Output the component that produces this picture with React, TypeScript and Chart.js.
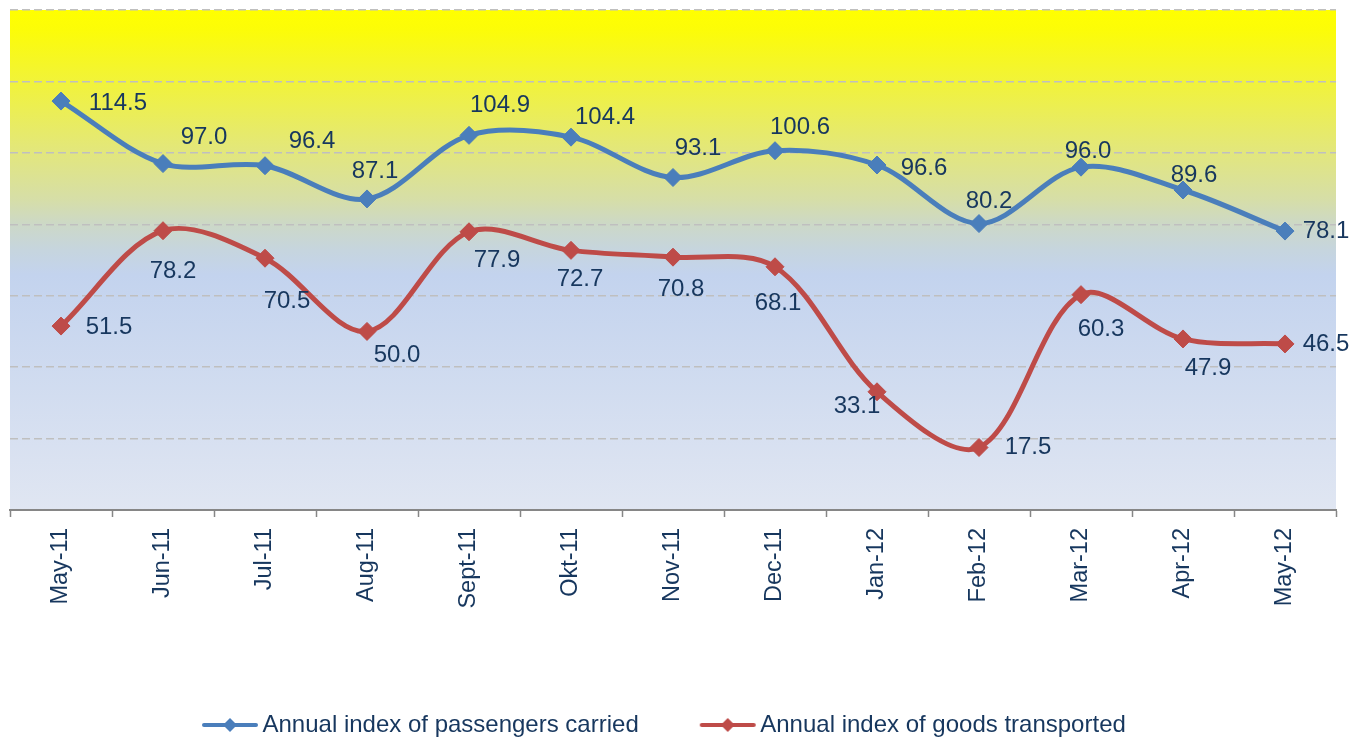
import React, { useEffect, useRef } from 'react';
import { Chart, registerables } from 'chart.js';

Chart.register(...registerables);

const categories = ['May-11', 'Jun-11', 'Jul-11', 'Aug-11', 'Sept-11', 'Okt-11', 'Nov-11', 'Dec-11', 'Jan-12', 'Feb-12', 'Mar-12', 'Apr-12', 'May-12'];
const passengers = [114.5, 97.0, 96.4, 87.1, 104.9, 104.4, 93.1, 100.6, 96.6, 80.2, 96.0, 89.6, 78.1];
const goods = [51.5, 78.2, 70.5, 50.0, 77.9, 72.7, 70.8, 68.1, 33.1, 17.5, 60.3, 47.9, 46.5];
const seriesNames = ['Annual index of passengers carried', 'Annual index of goods transported'];
const yMin = 0;
const yMax = 140;
const yStep = 20;

// label placement offsets (text centre relative to the point), styling only
const passengerLabelOffsets = [[57, 2], [41, -26], [47, -24], [8, -28], [31, -30], [34, -20], [25, -29], [25, -23], [47, 3], [10, -22], [7, -16], [11, -15], [41, 0]];
const goodsLabelOffsets = [[48, 1], [10, 41], [22, 43], [30, 24], [28, 29], [9, 29], [8, 32], [3, 37], [-20, 15], [49, 0], [20, 35], [25, 29], [41, 0]];

const BLUE = '#4A7EBB';
const RED = '#BE4B48';
const TEXT = '#17375E';
const FONT = '"Liberation Sans", Arial, sans-serif';

export default function App() {
  const ref = useRef<HTMLCanvasElement>(null);

  useEffect(() => {
    document.body.style.margin = '0';
    const canvas = ref.current!;

    const makeLegendImg = (color: string) => {
      const c = document.createElement('canvas');
      c.width = 58;
      c.height = 16;
      const g = c.getContext('2d')!;
      g.strokeStyle = color;
      g.lineWidth = 4;
      g.lineCap = 'round';
      g.beginPath();
      g.moveTo(3, 8);
      g.lineTo(55, 8);
      g.stroke();
      g.fillStyle = color;
      g.beginPath();
      g.moveTo(29, 1);
      g.lineTo(36, 8);
      g.lineTo(29, 15);
      g.lineTo(22, 8);
      g.closePath();
      g.fill();
      return c;
    };
    const legendImgs = [makeLegendImg(BLUE), makeLegendImg(RED)];
    const labelOffsets = [passengerLabelOffsets, goodsLabelOffsets];

    const bgPlugin = {
      id: 'plotBg',
      beforeDraw(chart: any) {
        const { ctx, chartArea: a } = chart;
        const gr = ctx.createLinearGradient(0, a.top, 0, a.bottom);
        gr.addColorStop(0, '#FFFF00');
        gr.addColorStop(0.04, '#FCFC08');
        gr.addColorStop(0.27, '#E4E876');
        gr.addColorStop(0.38, '#D6DEA8');
        gr.addColorStop(0.43, '#CCD8C8');
        gr.addColorStop(0.48, '#C6D5DE');
        gr.addColorStop(0.53, '#C3D3EE');
        gr.addColorStop(1, '#E0E6F2');
        ctx.save();
        ctx.fillStyle = gr;
        ctx.fillRect(a.left, a.top, a.right - a.left, a.bottom - a.top);
        ctx.restore();
      },
    };

    const legendShift = {
      id: 'legendShift',
      afterLayout(chart: any) {
        const lg = chart.legend;
        if (!lg || !lg.lineWidths) return;
        const P = lg.options.labels.padding;
        const natural = (lg.left + P + lg.right - lg.lineWidths[0]) / 2;
        const dx = 209.5 - natural;
        lg.left += dx;
        lg.right += dx;
        lg.top += 8;
        lg.bottom += 8;
      },
    };

    const labelPlugin = {
      id: 'valueLabels',
      afterDatasetsDraw(chart: any) {
        const ctx = chart.ctx;
        ctx.save();
        ctx.font = `24px ${FONT}`;
        ctx.fillStyle = TEXT;
        ctx.textAlign = 'center';
        ctx.textBaseline = 'middle';
        chart.data.datasets.forEach((ds: any, di: number) => {
          const meta = chart.getDatasetMeta(di);
          const offs = labelOffsets[di];
          meta.data.forEach((pt: any, i: number) => {
            const v = ds.data[i] as number;
            ctx.fillText(v.toFixed(1), pt.x + offs[i][0], pt.y + offs[i][1]);
          });
        });
        ctx.restore();
      },
    };

    const chart = new Chart(canvas, {
      type: 'line',
      data: {
        labels: categories,
        datasets: [
          {
            label: seriesNames[0],
            data: passengers,
            borderColor: BLUE,
            backgroundColor: BLUE,
            borderWidth: 5,
            tension: 0.33,
            pointStyle: 'rectRot',
            pointRadius: 9,
            pointBorderWidth: 1,
            pointBackgroundColor: BLUE,
            pointBorderColor: BLUE,
            fill: false,
          },
          {
            label: seriesNames[1],
            data: goods,
            borderColor: RED,
            backgroundColor: RED,
            borderWidth: 5,
            tension: 0.33,
            pointStyle: 'rectRot',
            pointRadius: 9,
            pointBorderWidth: 1,
            pointBackgroundColor: RED,
            pointBorderColor: RED,
            fill: false,
          },
        ],
      },
      options: {
        responsive: false,
        animation: false,
        devicePixelRatio: 1,
        layout: { padding: { left: 7, right: 29, top: 8, bottom: 0 } },
        plugins: {
          tooltip: { enabled: false },
          legend: {
            position: 'bottom',
            align: 'center',
            labels: {
              usePointStyle: true,
              pointStyleWidth: 41,
              padding: 68.5,
              color: TEXT,
              font: { family: FONT, size: 24 },
              generateLabels: () =>
                seriesNames.map((name, i) => ({
                  text: name,
                  fillStyle: i === 0 ? BLUE : RED,
                  strokeStyle: i === 0 ? BLUE : RED,
                  lineWidth: 0,
                  pointStyle: legendImgs[i] as any,
                  fontColor: TEXT,
                  hidden: false,
                  datasetIndex: i,
                })),
            },
          },
        },
        scales: {
          x: {
            offset: true,
            grid: {
              offset: true,
              drawOnChartArea: false,
              drawTicks: true,
              tickLength: 7,
              tickColor: '#868686',
              tickWidth: 1.5,
            },
            border: { display: true, color: '#868686', width: 2 },
            ticks: {
              autoSkip: false,
              minRotation: 90,
              maxRotation: 90,
              padding: 11,
              color: TEXT,
              font: { family: FONT, size: 23.5 },
            },
            afterFit: (scale: any) => {
              scale.height = 126.5;
            },
          },
          y: {
            min: yMin,
            max: yMax,
            ticks: { display: false, stepSize: yStep },
            grid: {
              drawTicks: false,
              lineWidth: 1.5,
              color: (c: any) => (c.tick && c.tick.value === 0 ? 'rgba(0,0,0,0)' : '#BFBFBF'),
            },
            border: { display: false, dash: [8, 4] },
          },
        },
      },
      plugins: [bgPlugin, legendShift, labelPlugin],
    });

    return () => chart.destroy();
  }, []);

  return (
    <div style={{ width: 1365, height: 739 }}>
      <canvas ref={ref} width={1365} height={739} style={{ display: 'block' }} />
    </div>
  );
}
